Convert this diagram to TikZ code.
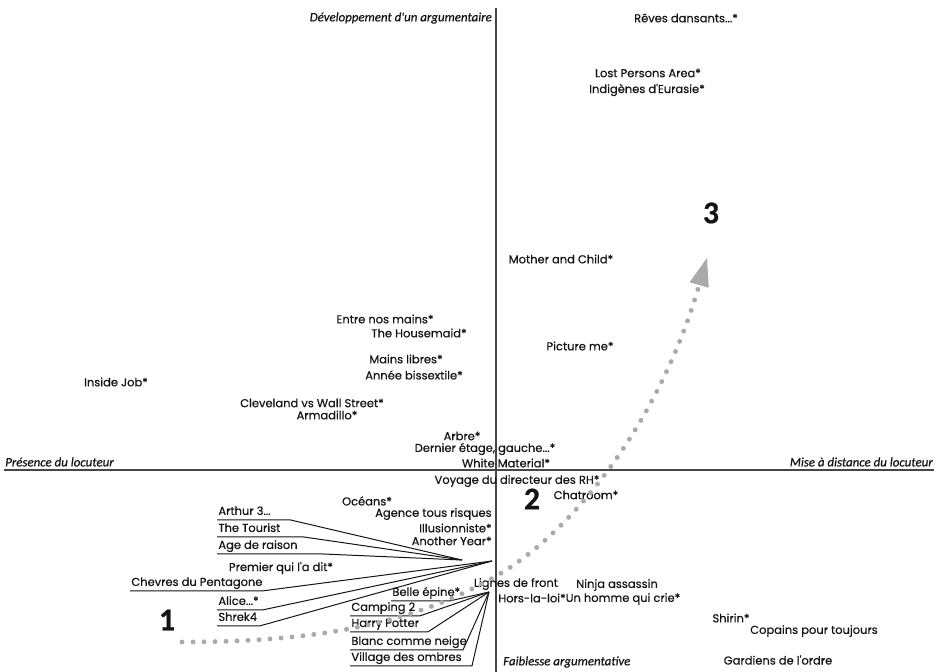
\documentclass[tikz,border=0pt]{standalone}
\usepackage{fontspec}
\setmainfont{Poppins}
\newfontfamily\filmfont{Poppins}[FakeBold=0.5]
\newfontfamily\axisfont{Carlito}[FakeBold=0.6]
\usetikzlibrary{arrows.meta}
\definecolor{AxisGray}{RGB}{70,70,70}
\definecolor{FilmInk}{RGB}{20,20,20}
\definecolor{PathGray}{RGB}{170,170,170}

\begin{document}
\begin{tikzpicture}[x=0.03cm, y=-0.03cm,
    film/.style={font=\filmfont\fontsize{9.8}{11}\selectfont, text=FilmInk, inner sep=1pt},
    listed/.style={film, anchor=west, text height=7pt, text depth=2pt, inner ysep=2pt},
    lead/.style={line width=0.85pt, FilmInk},
    pole/.style={font=\axisfont\itshape\fontsize{11}{12}\selectfont, text=FilmInk, inner sep=0pt},
    stage/.style={font=\axisfont\bfseries\fontsize{27}{27}\selectfont, text=FilmInk, inner sep=0pt}]
    \useasboundingbox (0,0) rectangle (938,672);
    % Axes
    \draw[AxisGray, line width=1.2pt] (4,470) -- (934,470);
    \draw[AxisGray, line width=1.2pt] (496,8) -- (496,672);
    % Pole labels
    \node[pole, anchor=east] (devel) at (492,18) {Développement d'un argumentaire};
    \node[pole, anchor=west] (presence) at (5,462) {Présence du locuteur};
    \node[pole, anchor=east] (distance) at (933,462) {Mise à distance du locuteur};
    \node[pole, anchor=west] (faiblesse) at (503,662) {Faiblesse argumentative};
    % Upper right quarter
    \node[film] (reves) at (686,18) {Rêves dansants...*};
    \node[film] (lost) at (648,73) {Lost Persons Area*};
    \node[film] (indigenes) at (647,90) {Indigènes d'Eurasie*};
    \node[film] (mother) at (561,259) {Mother and Child*};
    \node[film] (picture) at (580,346) {Picture me*};
    % Upper left quarter
    \node[film] (entre) at (385,319) {Entre nos mains*};
    \node[film] (housemaid) at (419,333) {The Housemaid*};
    \node[film] (mains) at (406,359) {Mains libres*};
    \node[film] (annee) at (414,375) {Année bissextile*};
    \node[film] (inside) at (116,382) {Inside Job*};
    \node[film] (cleveland) at (312,403) {Cleveland vs Wall Street*};
    \node[film] (armadillo) at (327,415) {Armadillo*};
    \node[film] (arbre) at (462,436) {Arbre*};
    \node[film] (dernier) at (485,449) {Dernier étage, gauche...*};
    \node[film] (white) at (506,463) {White Material*};
    % Lower half
    \node[film] (voyage) at (517,481) {Voyage du directeur des RH*};
    \node[film] (chatroom) at (586,495) {Chatroom*};
    \node[film] (oceans) at (367,501) {Océans*};
    \node[film, anchor=east] (agence) at (493,514) {Agence tous risques};
    \node[film, anchor=east] (illusion) at (493,528) {Illusionniste*};
    \node[film, anchor=east] (another) at (493,541) {Another Year*};
    \node[film] (premier) at (281,568) {Premier qui l'a dit*};
    \node[film] (lignes) at (516,584) {Lignes de front};
    \node[film] (hors) at (532,598) {Hors-la-loi*};
    \node[film] (ninja) at (617,585) {Ninja assassin};
    \node[film] (homme) at (623,599) {Un homme qui crie*};
    \node[film] (shirin) at (731,618) {Shirin*};
    \node[film] (copains) at (814,631) {Copains pour toujours};
    \node[film] (gardiens) at (778,660) {Gardiens de l'ordre};
    % Underlined titles bundled together
    \node[listed] (arthur) at (217,512) {Arthur 3...};
    \node[listed] (tourist) at (217,529) {The Tourist};
    \node[listed] (age) at (217,546) {Age de raison};
    \node[listed] (chevres) at (130,583) {Chevres du Pentagone};
    \node[listed] (alice) at (217,602) {Alice...*};
    \node[listed] (shrek) at (217,618) {Shrek4};
    \node[listed] (belle) at (391,593) {Belle épine*};
    \node[listed] (camping) at (350,608) {Camping 2};
    \node[listed] (harry) at (350,624) {Harry Potter};
    \node[listed] (blanc) at (350,642) {Blanc comme neige};
    \node[listed] (village) at (350,658) {Village des ombres};
    \coordinate (hubA) at (462,560);
    \coordinate (hubB) at (492,561);
    \coordinate (hubC) at (489,592);
    \draw[lead] (arthur.south west) -- ++(73,0) -- (hubA);
    \draw[lead] (tourist.south west) -- ++(86,0) -- (hubA);
    \draw[lead] (age.south west) -- ++(103,0) -- (hubA);
    \draw[lead] (chevres.south west) -- ++(133,0) -- (hubB);
    \draw[lead] (alice.south west) -- ++(46,0) -- (hubB);
    \draw[lead] (shrek.south west) -- ++(43,0) -- (hubB);
    \draw[lead] (belle.south west) -- ++(59,0) -- (hubC);
    \draw[lead] (camping.south west) -- ++(70,0) -- (hubC);
    \draw[lead] (harry.south west) -- ++(78,0) -- (hubC);
    \draw[lead] (blanc.south west) -- ++(113,0) -- (hubC);
    \draw[lead] (village.south west) -- ++(122,0) -- (hubC);
    % Stages
    \node[stage] (one) at (167,620) {1};
    \node[stage] (two) at (532,499) {2};
    \node[stage] (three) at (711,213) {3};
    % Dotted trajectory
    \coordinate (trajStart) at (182,642);
    \coordinate (trajMid) at (498,575);
    \coordinate (trajEnd) at (707,258);
    \draw[PathGray, line width=4.2pt, line cap=round, dash pattern=on 0pt off 9.4pt,
        -{Triangle[length=24pt, width=17pt, line width=0pt]}]
        (trajStart) .. controls (330,642) and (420,620) .. (trajMid)
        .. controls (575,530) and (660,420) .. (trajEnd);
\end{tikzpicture}
\end{document}
